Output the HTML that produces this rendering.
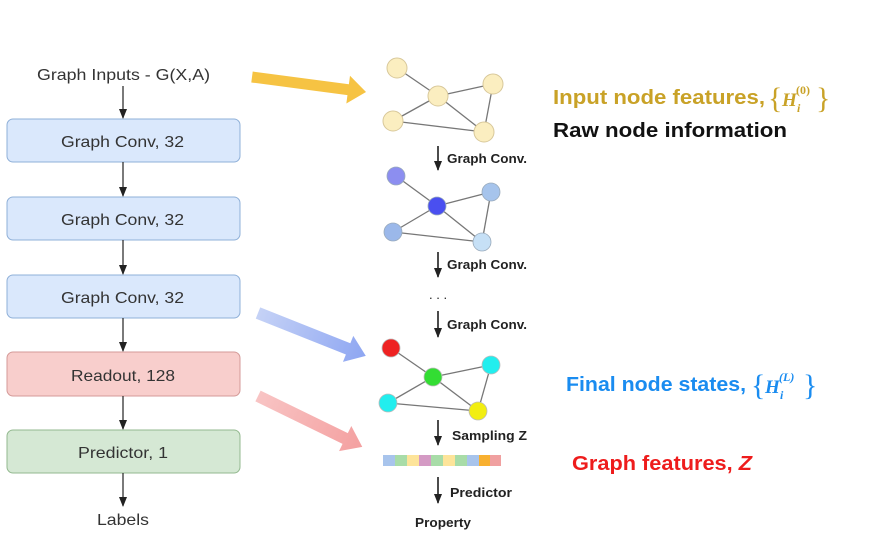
<!DOCTYPE html>
<html><head><meta charset="utf-8"><style>
body{margin:0;background:#fff;width:896px;height:546px;overflow:hidden;font-family:"Liberation Sans",sans-serif;}
svg{position:absolute;left:0;top:0}
</style></head><body>
<svg width="896" height="546" viewBox="0 0 896 546" xmlns="http://www.w3.org/2000/svg">
<defs>
<marker id="ah" markerWidth="10" markerHeight="10" refX="9" refY="5" orient="auto" markerUnits="userSpaceOnUse"><path d="M0,1 L10,5 L0,9 Z" fill="#222"/></marker>
<linearGradient id="gb" x1="0" x2="1"><stop offset="0" stop-color="#c5d2f6"/><stop offset="1" stop-color="#8ea6f2"/></linearGradient>
<linearGradient id="gp" x1="0" x2="1"><stop offset="0" stop-color="#f8c4c4"/><stop offset="1" stop-color="#f4a0a0"/></linearGradient>
</defs>
<g font-size="16" fill="#333">
<text x="37" y="80" textLength="173" lengthAdjust="spacingAndGlyphs">Graph Inputs - G(X,A)</text>
<rect x="7" y="119" width="233" height="43" rx="6" fill="#dae8fc" stroke="#8fb0d8"/>
<text x="61" y="147" textLength="123" lengthAdjust="spacingAndGlyphs">Graph Conv, 32</text>
<rect x="7" y="197" width="233" height="43" rx="6" fill="#dae8fc" stroke="#8fb0d8"/>
<text x="61" y="225" textLength="123" lengthAdjust="spacingAndGlyphs">Graph Conv, 32</text>
<rect x="7" y="275" width="233" height="43" rx="6" fill="#dae8fc" stroke="#8fb0d8"/>
<text x="61" y="303" textLength="123" lengthAdjust="spacingAndGlyphs">Graph Conv, 32</text>
<rect x="7" y="352" width="233" height="44" rx="6" fill="#f8cecc" stroke="#d49a98"/>
<text x="71" y="381" textLength="104" lengthAdjust="spacingAndGlyphs">Readout, 128</text>
<rect x="7" y="430" width="233" height="43" rx="6" fill="#d5e8d4" stroke="#93b98f"/>
<text x="78" y="458" textLength="90" lengthAdjust="spacingAndGlyphs">Predictor, 1</text>
<text x="97" y="525" textLength="52" lengthAdjust="spacingAndGlyphs">Labels</text>
</g>
<g stroke="#222" stroke-width="1.2" marker-end="url(#ah)">
<line x1="123" y1="86" x2="123" y2="118"/>
<line x1="123" y1="162" x2="123" y2="196"/>
<line x1="123" y1="240" x2="123" y2="274"/>
<line x1="123" y1="318" x2="123" y2="351"/>
<line x1="123" y1="396" x2="123" y2="429"/>
<line x1="123" y1="473" x2="123" y2="506"/>
</g>
<g transform="translate(252,77) rotate(7.5)"><path d="M0,-5.5 L97,-5.5 L97,-14 L115,0 L97,14 L97,5.5 L0,5.5 Z" fill="#f6c343"/></g>
<g transform="translate(258,313) rotate(21.7)"><path d="M0,-6 L97,-6 L97,-14 L116,0 L97,14 L97,6 L0,6 Z" fill="url(#gb)"/></g>
<g transform="translate(258,396) rotate(26)"><path d="M0,-6 L97,-6 L97,-14 L116,0 L97,14 L97,6 L0,6 Z" fill="url(#gp)"/></g>
<g stroke="#777" stroke-width="1.3">
<line x1="397" y1="68" x2="438" y2="96"/><line x1="438" y1="96" x2="493" y2="84"/><line x1="438" y1="96" x2="393" y2="121"/><line x1="438" y1="96" x2="484" y2="132"/><line x1="493" y1="84" x2="484" y2="132"/><line x1="393" y1="121" x2="484" y2="132"/>
<line x1="396" y1="176" x2="437" y2="206"/><line x1="437" y1="206" x2="491" y2="192"/><line x1="437" y1="206" x2="393" y2="232"/><line x1="437" y1="206" x2="482" y2="242"/><line x1="491" y1="192" x2="482" y2="242"/><line x1="393" y1="232" x2="482" y2="242"/>
<line x1="391" y1="348" x2="433" y2="377"/><line x1="433" y1="377" x2="491" y2="365"/><line x1="433" y1="377" x2="388" y2="403"/><line x1="433" y1="377" x2="478" y2="411"/><line x1="491" y1="365" x2="478" y2="411"/><line x1="388" y1="403" x2="478" y2="411"/>
</g>
<g stroke="#d8c89a" stroke-width="1" fill="#fbeec0">
<circle cx="397" cy="68" r="10"/><circle cx="438" cy="96" r="10"/><circle cx="493" cy="84" r="10"/><circle cx="393" cy="121" r="10"/><circle cx="484" cy="132" r="10"/>
</g>
<g stroke="#9ab" stroke-width="0.8">
<circle cx="396" cy="176" r="9" fill="#8c8ef0"/><circle cx="437" cy="206" r="9" fill="#4a4ff0"/><circle cx="491" cy="192" r="9" fill="#a6c4ec"/><circle cx="393" cy="232" r="9" fill="#9bb8ea"/><circle cx="482" cy="242" r="9" fill="#c6e0f6"/>
</g>
<g stroke="#bbb" stroke-width="0.8">
<circle cx="391" cy="348" r="9" fill="#ee2222"/><circle cx="433" cy="377" r="9" fill="#33dd33"/><circle cx="491" cy="365" r="9" fill="#22eeee"/><circle cx="388" cy="403" r="9" fill="#22eeee"/><circle cx="478" cy="411" r="9" fill="#f2ee11"/>
</g>
<g>
<rect x="383" y="455" width="12" height="11" fill="#a8c4ec"/><rect x="395" y="455" width="12" height="11" fill="#a8dca8"/><rect x="407" y="455" width="12" height="11" fill="#fde49a"/><rect x="419" y="455" width="12" height="11" fill="#d49ac4"/><rect x="431" y="455" width="12" height="11" fill="#a8dca8"/><rect x="443" y="455" width="12" height="11" fill="#fde49a"/><rect x="455" y="455" width="12" height="11" fill="#a8dca8"/><rect x="467" y="455" width="12" height="11" fill="#a8c4ec"/><rect x="479" y="455" width="11" height="11" fill="#f8b030"/><rect x="490" y="455" width="11" height="11" fill="#f0a0a0"/>
</g>
<g stroke="#111" stroke-width="1.5" marker-end="url(#ah)">
<line x1="438" y1="146" x2="438" y2="170"/>
<line x1="438" y1="252" x2="438" y2="277"/>
<line x1="438" y1="311" x2="438" y2="337"/>
<line x1="438" y1="420" x2="438" y2="445"/>
<line x1="438" y1="477" x2="438" y2="503"/>
</g>
<g font-size="13" font-weight="bold" fill="#222">
<text x="447" y="163" textLength="80" lengthAdjust="spacingAndGlyphs">Graph Conv.</text>
<text x="447" y="269" textLength="80" lengthAdjust="spacingAndGlyphs">Graph Conv.</text>
<text x="447" y="329" textLength="80" lengthAdjust="spacingAndGlyphs">Graph Conv.</text>
<text x="452" y="440" textLength="75" lengthAdjust="spacingAndGlyphs">Sampling Z</text>
<text x="450" y="497" textLength="62" lengthAdjust="spacingAndGlyphs">Predictor</text>
<text x="415" y="527" textLength="56" lengthAdjust="spacingAndGlyphs">Property</text>
<text x="429" y="299" font-weight="normal">. . .</text>
</g>
<g font-size="20" font-weight="bold">
<text x="553" y="104" fill="#c9a227" textLength="212" lengthAdjust="spacingAndGlyphs">Input node features,</text>
<text x="553" y="137" fill="#111" textLength="234" lengthAdjust="spacingAndGlyphs">Raw node information</text>
<text x="566" y="391" fill="#1a8cf0" textLength="180" lengthAdjust="spacingAndGlyphs">Final node states,</text>
<text x="572" y="470" fill="#ee1c1c" textLength="180" lengthAdjust="spacingAndGlyphs">Graph features, <tspan font-style="italic">Z</tspan></text>
</g>
<g font-family="Liberation Serif,serif" font-style="italic" font-weight="bold">
<g fill="#c9a227"><text x="768" y="108" font-size="30" font-style="normal" font-weight="normal">{</text><text x="782" y="106" font-size="19">H</text><text x="797" y="112" font-size="12">i</text><text x="796" y="94" font-size="12" font-style="normal">(0)</text><text x="816" y="108" font-size="30" font-style="normal" font-weight="normal">}</text></g>
<g fill="#1a8cf0"><text x="751" y="395" font-size="30" font-style="normal" font-weight="normal">{</text><text x="765" y="393" font-size="19">H</text><text x="780" y="399" font-size="12">i</text><text x="779" y="381" font-size="12">(L)</text><text x="803" y="395" font-size="30" font-style="normal" font-weight="normal">}</text></g>
</g>
</svg>
</body></html>
